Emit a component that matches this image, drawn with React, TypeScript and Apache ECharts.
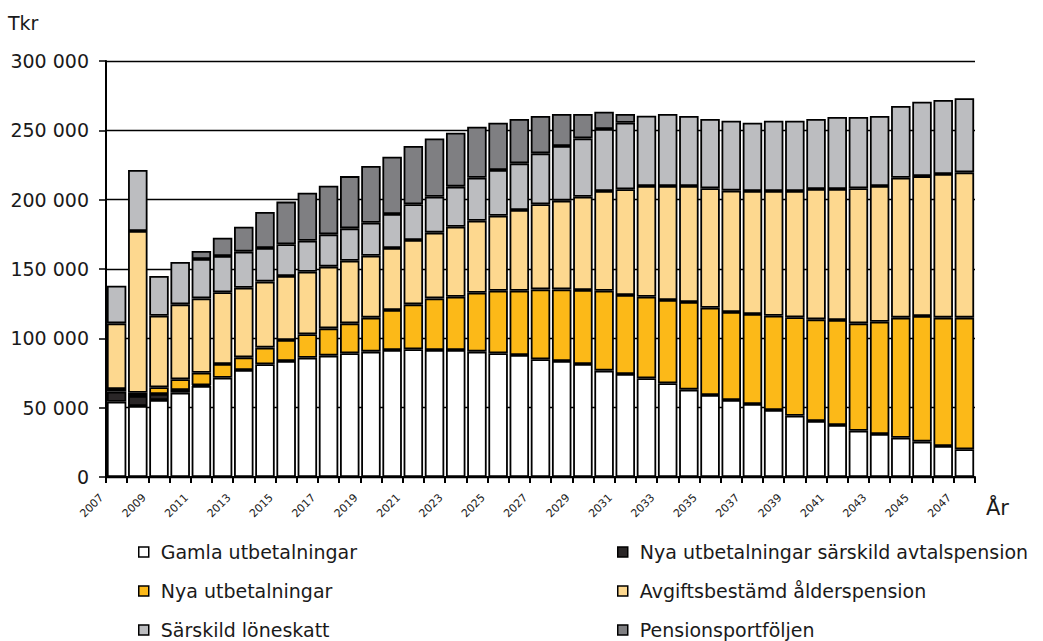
import React, { useEffect, useRef } from "react";
import * as echarts from "echarts";

const years: string[] = [];
for (let y = 2007; y <= 2047; y++) years.push(String(y));

const seriesNames = [
  "Gamla utbetalningar",
  "Nya utbetalningar särskild avtalspension",
  "Nya utbetalningar",
  "Avgiftsbestämd ålderspension",
  "Särskild löneskatt",
  "Pensionsportföljen",
];

const gamla = [54300, 51200, 55500, 60800, 65600, 71600, 77200, 81300, 83700, 86000, 87500, 89200, 90400, 91600, 92100, 91600, 91600, 90400, 89200, 88000, 84900, 83700, 81500, 76700, 74300, 71200, 67600, 63000, 59100, 55500, 52600, 48300, 44200, 40400, 37500, 33400, 31000, 28300, 25500, 22400, 20000];
const nyaSarskild = [7200, 7200, 4400, 1900, 600, 0, 0, 0, 0, 0, 0, 0, 0, 0, 0, 0, 0, 0, 0, 0, 0, 0, 0, 0, 0, 0, 0, 0, 0, 0, 0, 0, 0, 0, 0, 0, 0, 0, 0, 0, 0];
const nya = [2000, 2400, 4800, 7800, 9000, 9900, 9100, 12000, 15100, 16900, 19700, 21600, 24500, 28800, 32400, 37200, 38400, 42500, 45100, 46300, 50400, 51600, 53400, 57600, 56900, 58800, 60000, 63200, 63000, 63500, 64900, 68000, 71000, 73300, 75700, 77400, 81000, 86600, 90600, 92500, 94900];
const avgift = [47300, 116600, 51600, 54000, 53600, 51700, 50200, 47600, 46200, 45100, 44500, 45200, 44700, 44700, 46400, 47400, 50500, 51900, 54100, 58200, 61400, 64000, 67200, 71900, 76300, 79900, 82300, 83700, 86100, 87500, 88700, 89900, 91000, 94000, 94500, 97400, 97900, 100900, 100900, 103600, 104800];
const loneskatt = [27200, 44000, 28700, 30500, 28400, 26200, 26000, 24200, 22800, 22400, 23300, 23300, 23800, 24600, 25800, 25900, 28900, 31000, 33000, 33700, 36700, 39400, 42100, 44800, 48000, 50700, 51900, 50500, 50000, 50400, 49300, 50700, 50700, 50500, 51900, 51400, 50400, 51700, 53700, 53400, 53400];
const portfolj = [0, 0, 0, 0, 5800, 13200, 18000, 26000, 30800, 34600, 35000, 37700, 40900, 41300, 42000, 42100, 38900, 36800, 34100, 32000, 26900, 23100, 17600, 12400, 6300, 0, 0, 0, 0, 0, 0, 0, 0, 0, 0, 0, 0, 0, 0, 0, 0];

const colors = ["#ffffff", "#2a2627", "#fcb918", "#fdd88f", "#bcbdc0", "#7f7f82"];
const dataSets = [gamla, nyaSarskild, nya, avgift, loneskatt, portfolj];

const FONT = "DejaVu Sans";

export default function App() {
  const ref = useRef<HTMLDivElement>(null);
  useEffect(() => {
    if (!ref.current) return;
    const chart = echarts.init(ref.current, null, { renderer: "svg" });
    const series = seriesNames.map((name, i) => ({
      name,
      type: "bar",
      stack: "total",
      barCategoryGap: "8%",
      data: dataSets[i].map((v) => (v === 0 ? null : v)),
      itemStyle: { color: colors[i], borderColor: "#000", borderWidth: 1.8 },
      emphasis: { disabled: true },
    }));
    const legendCommon = {
      orient: "vertical",
      top: 541,
      height: 100,
      padding: 0,
      itemWidth: 10,
      itemHeight: 10,
      itemGap: 17,
      icon: "rect",
      selectedMode: false,
      itemStyle: { borderColor: "#000", borderWidth: 1.5 },
      textStyle: {
        fontFamily: FONT,
        fontSize: 19,
        color: "#1a1a1a",
        lineHeight: 22,
        padding: [0, 0, 0, 7],
      },
    };
    chart.setOption({
      animation: false,
      backgroundColor: "#ffffff",
      grid: { left: 106, right: 68, top: 61, bottom: 164, containLabel: false },
      legend: [
        { ...legendCommon, left: 138, data: [seriesNames[0], seriesNames[2], seriesNames[4]] },
        { ...legendCommon, left: 617, data: [seriesNames[1], seriesNames[3], seriesNames[5]] },
      ],
      graphic: [
        {
          type: "text",
          left: 8,
          top: 13,
          style: { text: "Tkr", fontFamily: FONT, fontSize: 19, fill: "#1a1a1a" },
        },
        {
          type: "text",
          left: 986,
          top: 497,
          style: { text: "År", fontFamily: FONT, fontSize: 21, fill: "#1a1a1a" },
        },
      ],
      xAxis: {
        type: "category",
        data: years,
        axisLine: { lineStyle: { color: "#000", width: 2 } },
        axisTick: { show: true, interval: 0, length: 6, lineStyle: { color: "#000", width: 2 } },
        axisLabel: {
          interval: 1,
          rotate: 45,
          margin: 4,
          fontFamily: FONT,
          fontSize: 11,
          color: "#1a1a1a",
          padding: [0, 21, 0, 0],
        },
        splitLine: { show: false },
      },
      yAxis: {
        type: "value",
        min: 0,
        max: 300000,
        interval: 50000,
        axisLine: { show: true, lineStyle: { color: "#000", width: 2 } },
        axisTick: { show: true, length: 7, lineStyle: { color: "#000", width: 1.5 } },
        axisLabel: {
          margin: 17,
          fontFamily: FONT,
          fontSize: 19,
          color: "#1a1a1a",
          formatter: (v: number) => String(v).replace(/\B(?=(\d{3})+(?!\d))/g, " "),
        },
        splitLine: { show: true, lineStyle: { color: "#000", width: 1.4 } },
      },
      series,
    });
    return () => chart.dispose();
  }, []);
  return (
    <div
      ref={ref}
      style={{ position: "fixed", left: 0, top: 0, width: 1043, height: 641 }}
    />
  );
}
